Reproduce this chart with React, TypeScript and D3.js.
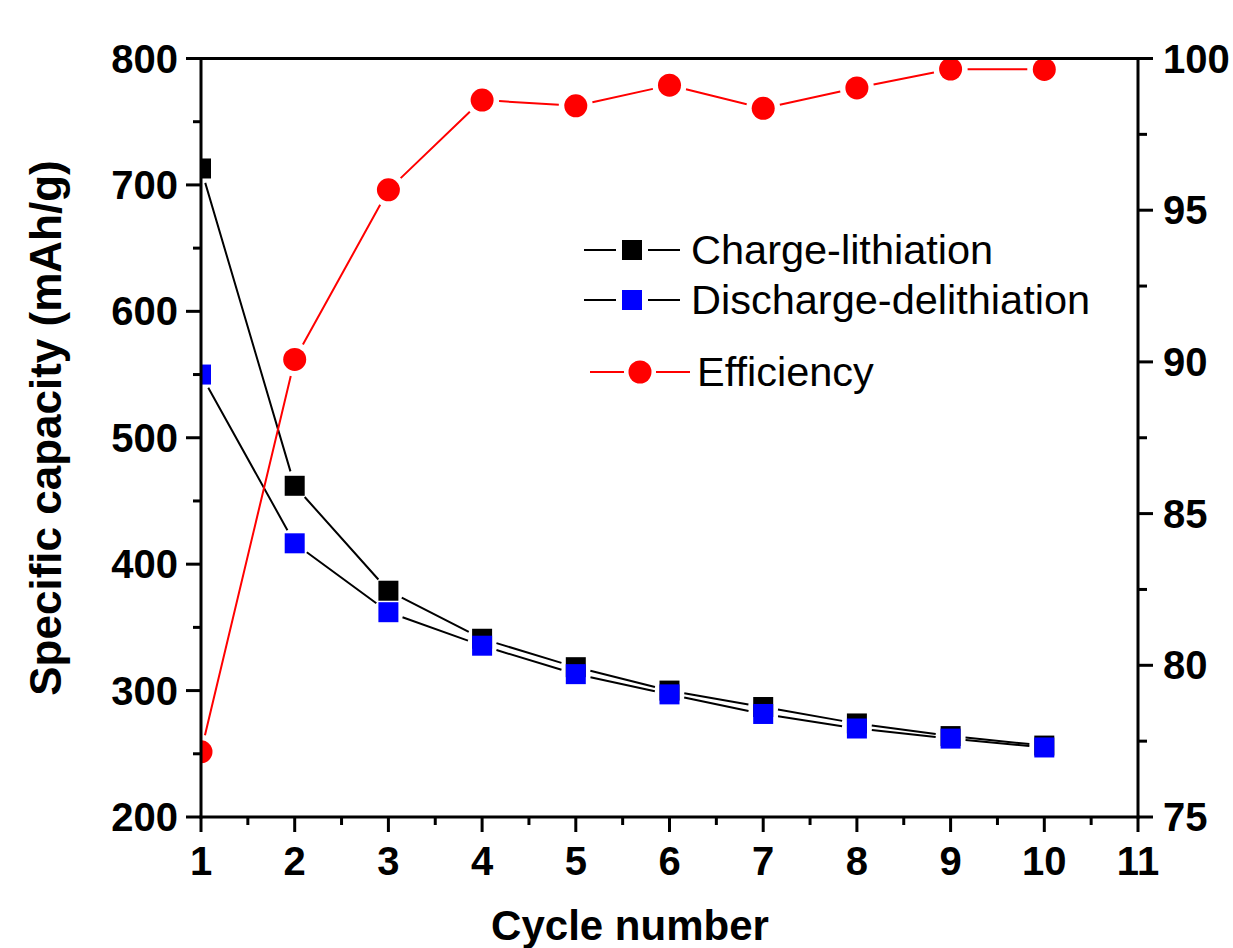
import React from "react";
import * as d3 from "d3";

const cycles = [1, 2, 3, 4, 5, 6, 7, 8, 9, 10];
const chargeLithiation = [713, 462, 379, 341, 318.5, 300, 287, 274, 264, 256.5];
const dischargeDelithiation = [550, 416.5, 362, 335.5, 313, 297, 281.5, 270, 262, 255];
const efficiency = [77.15, 90.08, 95.67, 98.63, 98.44, 99.12, 98.36, 99.03, 99.65, 99.64];

const xTicks = [1, 2, 3, 4, 5, 6, 7, 8, 9, 10, 11];
const leftTicks = [200, 300, 400, 500, 600, 700, 800];
const rightTicks = [75, 80, 85, 90, 95, 100];

const W = 1233;
const H = 948;
const L = 201, R = 1138, T = 58.5, B = 817;
const FONT = "'Liberation Sans', Arial, sans-serif";

function gappedSegments(pts: [number, number][], gap: number) {
  const segs: string[] = [];
  for (let i = 0; i < pts.length - 1; i++) {
    const [x1, y1] = pts[i];
    const [x2, y2] = pts[i + 1];
    const dx = x2 - x1, dy = y2 - y1;
    const len = Math.hypot(dx, dy);
    if (len <= 2 * gap) continue;
    const ux = dx / len, uy = dy / len;
    segs.push(
      `M${x1 + ux * gap},${y1 + uy * gap}L${x2 - ux * gap},${y2 - uy * gap}`
    );
  }
  return segs.join("");
}

export default function App() {
  const x = d3.scaleLinear().domain([1, 11]).range([L, R]);
  const yL = d3.scaleLinear().domain([200, 800]).range([B, T]);
  const yR = d3.scaleLinear().domain([75, 100]).range([B, T]);

  const xMinor = d3.range(1.5, 11, 1);
  const leftMinor = d3.range(250, 800, 100);
  const rightMinor = d3.range(77.5, 100, 5);

  const chargePts = cycles.map((c, i) => [x(c), yL(chargeLithiation[i])] as [number, number]);
  const dischargePts = cycles.map((c, i) => [x(c), yL(dischargeDelithiation[i])] as [number, number]);
  const effPts = cycles.map((c, i) => [x(c), yR(efficiency[i])] as [number, number]);

  const sq = 20;
  const rc = 11.5;

  return (
    <svg
      width={W}
      height={H}
      style={{ position: "absolute", left: 0, top: 0, background: "#fff" }}
      fontFamily={FONT}
    >
      <defs>
        <clipPath id="plotClip">
          <rect x={L} y={T - 14} width={R - L} height={B - T + 14} />
        </clipPath>
      </defs>
      <rect x={0} y={0} width={W} height={H} fill="#fff" />

      <g clipPath="url(#plotClip)">
        <path d={gappedSegments(chargePts, 15)} stroke="#000" strokeWidth={2} fill="none" />
        {chargePts.map(([px, py], i) => (
          <rect key={"c" + i} x={px - sq / 2} y={py - sq / 2} width={sq} height={sq} fill="#000" />
        ))}
        <path d={gappedSegments(dischargePts, 15)} stroke="#000" strokeWidth={2} fill="none" />
        {dischargePts.map(([px, py], i) => (
          <rect key={"d" + i} x={px - sq / 2} y={py - sq / 2} width={sq} height={sq} fill="#0000ff" />
        ))}
        <path d={gappedSegments(effPts, 17)} stroke="#ff0000" strokeWidth={2} fill="none" />
        {effPts.map(([px, py], i) => (
          <circle key={"e" + i} cx={px} cy={py} r={rc} fill="#ff0000" />
        ))}
      </g>

      <g stroke="#000" strokeWidth={3} fill="none" strokeLinecap="square">
        <line x1={L} y1={T} x2={R} y2={T} />
        <line x1={L} y1={B} x2={R} y2={B} />
        <line x1={L} y1={T} x2={L} y2={B} />
        <line x1={R} y1={T} x2={R} y2={B} />
      </g>

      <g stroke="#000" strokeWidth={3}>
        {xTicks.map((t) => (
          <line key={"xt" + t} x1={x(t)} x2={x(t)} y1={B} y2={B + 15} />
        ))}
        {xMinor.map((t) => (
          <line key={"xm" + t} x1={x(t)} x2={x(t)} y1={B} y2={B + 8} />
        ))}
        {leftTicks.map((t) => (
          <line key={"lt" + t} x1={L - 15} x2={L} y1={yL(t)} y2={yL(t)} />
        ))}
        {leftMinor.map((t) => (
          <line key={"lm" + t} x1={L - 8} x2={L} y1={yL(t)} y2={yL(t)} />
        ))}
        {rightTicks.map((t) => (
          <line key={"rt" + t} x1={R} x2={R + 15} y1={yR(t)} y2={yR(t)} />
        ))}
        {rightMinor.map((t) => (
          <line key={"rm" + t} x1={R} x2={R + 9} y1={yR(t)} y2={yR(t)} />
        ))}
      </g>

      <g fontSize={40} fontWeight="bold" fill="#000">
        {xTicks.map((t) => (
          <text key={"xl" + t} x={x(t)} y={875} textAnchor="middle">
            {t}
          </text>
        ))}
        {leftTicks.map((t) => (
          <text key={"ll" + t} x={178} y={yL(t) + 14} textAnchor="end">
            {t}
          </text>
        ))}
        {rightTicks.map((t) => (
          <text key={"rl" + t} x={1163} y={yR(t) + 14} textAnchor="start">
            {t}
          </text>
        ))}
      </g>

      <text x={630} y={940} fontSize={42} fontWeight="bold" textAnchor="middle">
        Cycle number
      </text>
      <text
        transform="translate(61,428) rotate(-90)"
        fontSize={44}
        fontWeight="bold"
        textAnchor="middle"
      >
        Specific capacity (mAh/g)
      </text>

      <g fontSize={41.5}>
        <g stroke="#000" strokeWidth={2}>
          <line x1={584} x2={616} y1={250} y2={250} />
          <line x1={648} x2={680} y1={250} y2={250} />
          <line x1={584} x2={616} y1={300} y2={300} />
          <line x1={648} x2={680} y1={300} y2={300} />
        </g>
        <rect x={622} y={240} width={sq} height={sq} fill="#000" />
        <rect x={622} y={290} width={sq} height={sq} fill="#0000ff" />
        <g stroke="#ff0000" strokeWidth={2}>
          <line x1={590} x2={624} y1={372} y2={372} />
          <line x1={656} x2={690} y1={372} y2={372} />
        </g>
        <circle cx={640} cy={372} r={rc} fill="#ff0000" />
        <text x={691} y={264}>Charge-lithiation</text>
        <text x={691} y={314}>Discharge-delithiation</text>
        <text x={697} y={386}>Efficiency</text>
      </g>
    </svg>
  );
}
